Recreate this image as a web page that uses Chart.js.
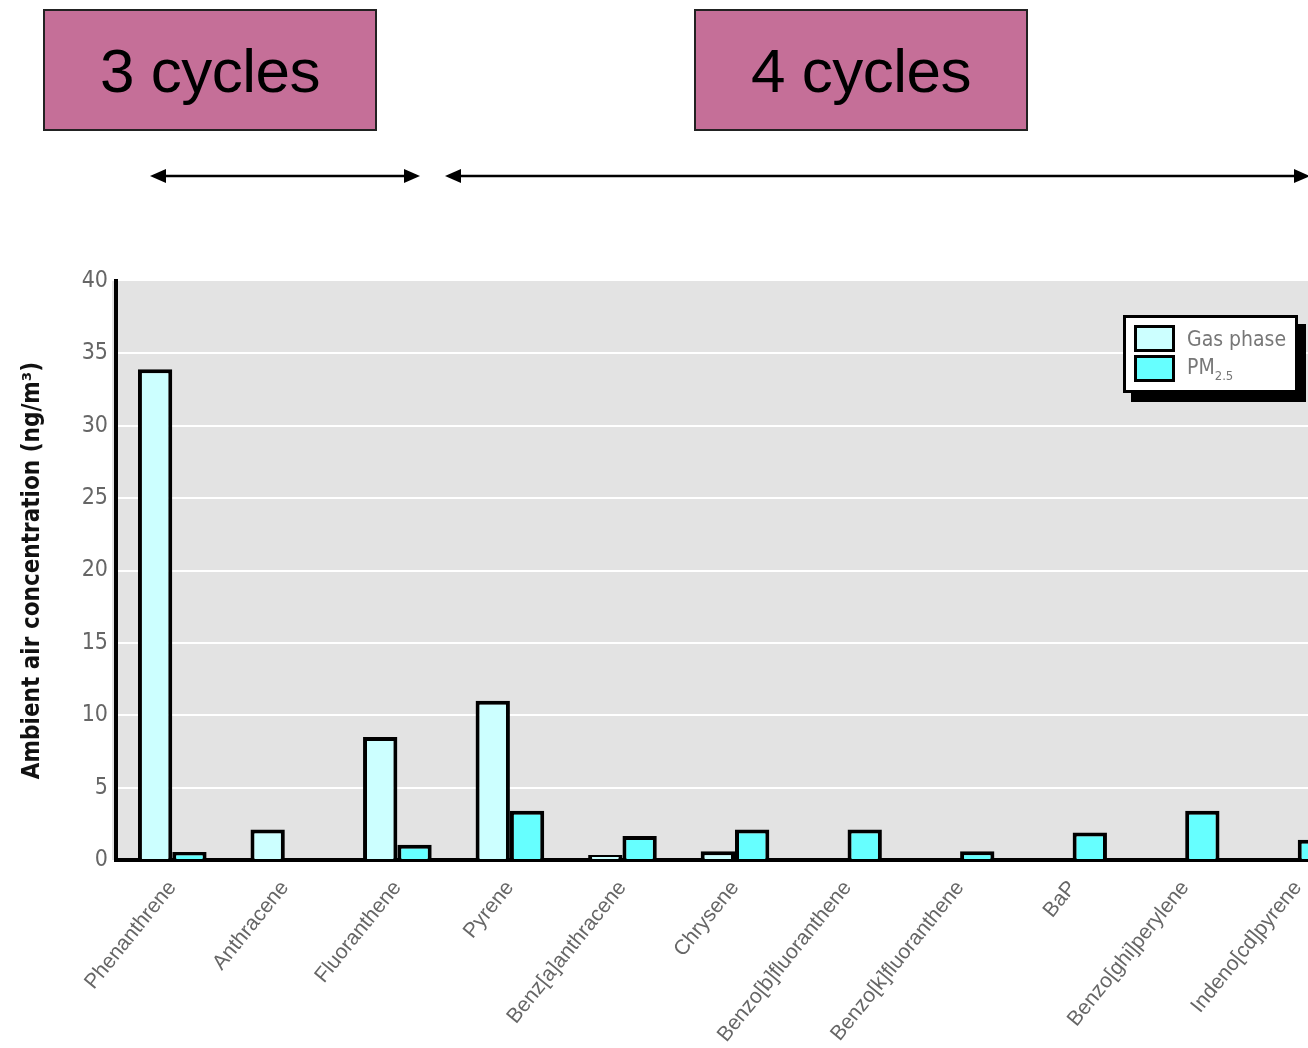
<!DOCTYPE html>
<html>
<head>
<meta charset="utf-8">
<script src="https://cdn.jsdelivr.net/npm/chart.js@4.4.1/dist/chart.umd.min.js"></script>
<style>
  html, body { margin: 0; padding: 0; width: 1308px; height: 1048px; overflow: hidden; background: #fff; }
  #wrap { position: relative; width: 1308px; height: 1048px; overflow: hidden; }
  #myChart { position: absolute; left: 0; top: 0; }
  .cyc {
    position: absolute; top: 9px; width: 330px; height: 118px;
    background: #c56f98; border: 2px solid #222;
    font-family: "Liberation Sans", Arial, sans-serif; font-size: 62px; color: #000;
    display: flex; align-items: center; justify-content: center; letter-spacing: -0.5px;
  }
  #legend {
    position: absolute; left: 1123px; top: 315px; width: 169px; height: 72px;
    background: #fff; border: 3px solid #000; box-shadow: 8px 9px 0 #000;
    font-family: "Liberation Sans Narrow", "DejaVu Sans Condensed", sans-serif; color: #777;
  }
  .row { position: absolute; left: 8px; height: 27px; display: flex; align-items: center; }
  .sw { width: 35px; height: 21px; border: 3px solid #000; margin-right: 12px; }
  .lt { font-size: 21px; }
  .lt sub { font-size: 13px; vertical-align: -6px; }
</style>
</head>
<body>
<div id="wrap">
  <canvas id="myChart" width="1362" height="1048"></canvas>
  <div class="cyc" style="left:43px">3 cycles</div>
  <div class="cyc" style="left:694px">4 cycles</div>
  <svg width="1308" height="220" style="position:absolute;left:0;top:0">
    <g stroke="#000" stroke-width="2.5" fill="none">
      <line x1="160" y1="176" x2="410" y2="176"></line>
      <line x1="455" y1="176" x2="1300" y2="176"></line>
    </g>
    <g fill="#000">
      <polygon points="150,176 166,169 166,183"></polygon>
      <polygon points="420,176 404,169 404,183"></polygon>
      <polygon points="445,176 461,169 461,183"></polygon>
      <polygon points="1310,176 1294,169 1294,183"></polygon>
    </g>
  </svg>
  <div id="legend">
    <div class="row" style="top:7px"><div class="sw" style="background:#ccffff"></div><span class="lt">Gas phase</span></div>
    <div class="row" style="top:37px"><div class="sw" style="background:#66ffff"></div><span class="lt">PM<sub>2.5</sub></span></div>
  </div>
</div>
<script>
const compounds = ['Phenanthrene', 'Anthracene', 'Fluoranthene', 'Pyrene', 'Benz[a]anthracene', 'Chrysene',
    'Benzo[b]fluoranthene', 'Benzo[k]fluoranthene', 'BaP', 'Benzo[ghi]perylene', 'Indeno[cd]pyrene']
const gasPhase = [33.9, 2.1, 8.5, 11.0, 0.35, 0.6, null, null, null, null, null]
const pm25 = [0.55, null, 1.05, 3.4, 1.65, 2.1, 2.1, 0.6, 1.9, 3.4, 1.4]
const yTicks = [0, 5, 10, 15, 20, 25, 30, 35, 40]

const narrow = "'Liberation Sans Narrow', 'DejaVu Sans Condensed', sans-serif"

// grey plot background
const plotBg = {
    id: 'plotBg',
    beforeDraw(chart) {
        const a = chart.chartArea
        const c = chart.ctx
        c.save()
        c.fillStyle = '#e3e3e3'
        c.fillRect(a.left - 4, a.top, a.right - a.left + 4, a.bottom - a.top)
        c.restore()
    }
}

const ctx = document.getElementById('myChart')
new Chart(ctx, {
    type: 'bar',
    data: {
        labels: compounds,
        datasets: [{
            label: 'Gas phase',
            data: gasPhase,
            backgroundColor: '#ccffff',
            borderColor: '#000',
            borderWidth: 4
        }, {
            label: 'PM2.5',
            data: pm25,
            backgroundColor: '#66ffff',
            borderColor: '#000',
            borderWidth: 4
        }]
    },
    options: {
        responsive: false,
        animation: false,
        layout: { padding: { left: 0, top: 281, right: 8, bottom: 0 } },
        datasets: { bar: { barPercentage: 1, categoryPercentage: 0.61 } },
        plugins: { legend: { display: false }, tooltip: { enabled: false } },
        scales: {
            x: {
                grid: { display: false },
                border: { display: true, color: '#000', width: 4 },
                ticks: {
                    color: '#666', minRotation: 51, maxRotation: 51, padding: 8,
                    font: { family: "'Liberation Sans', Arial, sans-serif", size: 21 }
                },
                afterFit(scale) { scale.height = 188 }
            },
            y: {
                min: 0, max: 40,
                afterBuildTicks(scale) { scale.ticks = yTicks.map(v => ({ value: v })) },
                grid: {
                    color: c => (c.tick && (c.tick.value === 40 || c.tick.value === 0)) ? 'rgba(0,0,0,0)' : '#fff',
                    lineWidth: 2, drawTicks: false
                },
                border: { display: true, color: '#000', width: 4 },
                ticks: { color: '#666', padding: 8, font: { family: narrow, size: 23 } },
                title: {
                    display: true, text: 'Ambient air concentration (ng/m³)', color: '#111',
                    font: { family: narrow, size: 24, weight: 'bold' },
                    padding: { top: 18, bottom: 0 }
                },
                afterFit(scale) { scale.width = 116 }
            }
        }
    },
    plugins: [plotBg]
})
</script>
</body>
</html>
